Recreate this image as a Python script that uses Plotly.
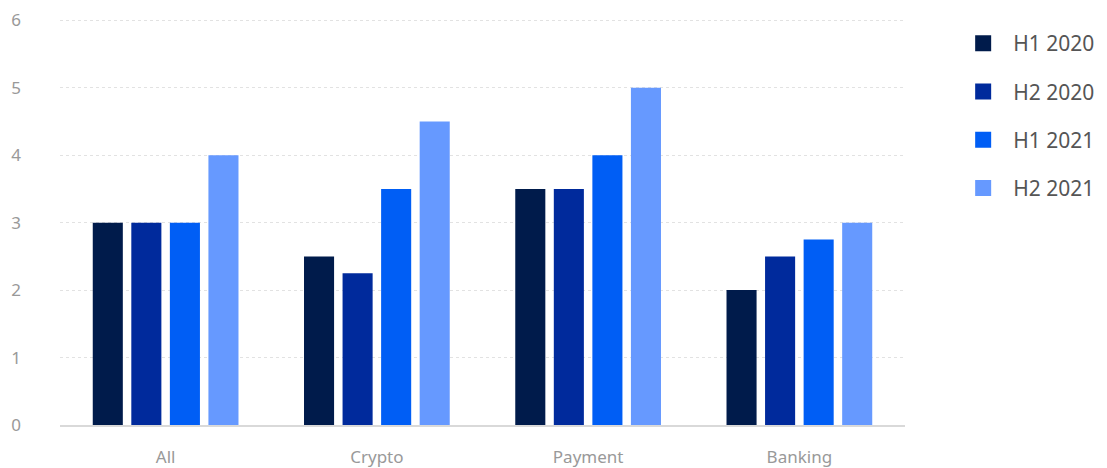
import plotly.graph_objects as go

categories = ["All", "Crypto", "Payment", "Banking"]
series_names = ["H1 2020", "H2 2020", "H1 2021", "H2 2021"]
h1_2020 = [3, 2.5, 3.5, 2]
h2_2020 = [3, 2.25, 3.5, 2.5]
h1_2021 = [3, 3.5, 4, 2.75]
h2_2021 = [4, 4.5, 5, 3]
colors = ["#001B4B", "#002A9C", "#005EF5", "#6699FF"]

fig = go.Figure()
for name, vals, col in zip(series_names, [h1_2020, h2_2020, h1_2021, h2_2021], colors):
    fig.add_trace(go.Bar(x=categories, y=vals, name=name, marker_color=col,
                         marker_line_width=0, legendgroup=name, showlegend=False))
    fig.add_trace(go.Scatter(x=[None], y=[None], mode="markers", name=name,
                             marker=dict(symbol="square", size=17, color=col,
                                         line=dict(width=0)),
                             legendgroup=name, showlegend=True))

fig.update_layout(
    width=1099, height=460,
    margin=dict(l=52, r=202, t=11, b=43, autoexpand=False),
    plot_bgcolor="white", paper_bgcolor="white",
    barmode="group", bargap=0.27, bargroupgap=0.22,
    font=dict(family="Noto Sans, sans-serif", color="#999999", size=17),
    legend=dict(x=1.057, y=0.99, xanchor="left", yanchor="top",
                font=dict(size=21, color="#555555"), tracegroupgap=18,
                itemsizing="trace", itemwidth=50),
    showlegend=True,
)
fig.update_yaxes(range=[0, 6.02], dtick=1, showgrid=True, gridcolor="#E2E2E2",
                 griddash="dot", gridwidth=1, zeroline=False, showline=False,
                 automargin=False, tickvals=[0, 1, 2, 3, 4, 5, 6],
                 ticklabelstandoff=38, tickfont=dict(size=17, color="#999999"))
fig.update_xaxes(showline=True, linecolor="#D9D9D9", linewidth=2, automargin=False,
                 ticklabelstandoff=16, tickfont=dict(size=17, color="#999999"))

fig.write_html("out.html")
